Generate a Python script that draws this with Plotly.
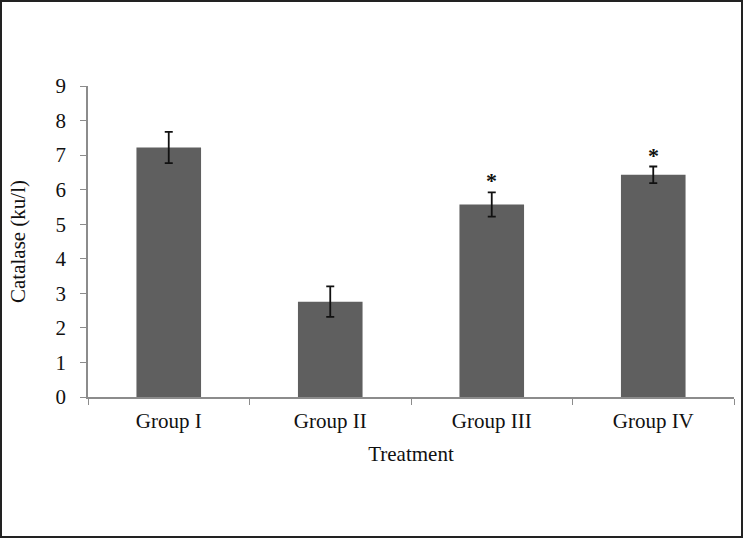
import plotly.graph_objects as go

groups = ["Group I", "Group II", "Group III", "Group IV"]
catalase = [7.22, 2.76, 5.57, 6.43]
errors = [0.45, 0.44, 0.35, 0.24]
marks = ["", "", "*", "*"]

W, H = 743, 538
ml, mr, mt, mb = 88, 9, 86, 141
font = "Liberation Serif, Times New Roman, serif"

fig = go.Figure()
fig.add_trace(go.Bar(
    x=groups, y=catalase, width=0.4,
    marker=dict(color="#5f5f5f", line=dict(width=0)),
    error_y=dict(type="data", array=errors, color="#111111", thickness=1.8, width=4),
))

# significance asterisks above error bars
for g, v, e, m in zip(groups, catalase, errors, marks):
    if m:
        fig.add_annotation(x=g, y=v + e, text="<b>" + m + "</b>", showarrow=False, yanchor="bottom",
                           yshift=-3, font=dict(size=22, color="#111111", family=font))

# frame round the whole picture
pw, ph = W - ml - mr, H - mt - mb
fig.add_shape(type="rect", xref="paper", yref="paper",
              x0=-(ml - 1) / pw, x1=1 + (mr - 1) / pw,
              y0=-(mb - 1) / ph, y1=1 + (mt - 1) / ph,
              line=dict(color="#222222", width=2))

fig.update_layout(
    width=W, height=H,
    margin=dict(l=ml, r=mr, t=mt, b=mb),
    paper_bgcolor="white", plot_bgcolor="white",
    font=dict(family=font, size=21, color="#111111"),
    showlegend=False,
    xaxis=dict(
        title=dict(text="Treatment", font=dict(size=21), standoff=14),
        showline=True, linecolor="#8c8c8c", linewidth=1.5,
        ticks="outside", tickson="boundaries", ticklen=6, tickcolor="#8c8c8c",
        ticklabelstandoff=4,
        showgrid=False,
    ),
    yaxis=dict(
        title=dict(text="Catalase (ku/l)", font=dict(size=21), standoff=24),
        range=[0, 9], dtick=1,
        showline=True, linecolor="#8c8c8c", linewidth=1.5,
        ticks="outside", ticklen=6, tickcolor="#8c8c8c",
        ticklabelstandoff=10,
        showgrid=False, zeroline=False,
    ),
)

fig.write_html("out.html", config={"displayModeBar": False},
               post_script="document.body.style.margin='0';")
